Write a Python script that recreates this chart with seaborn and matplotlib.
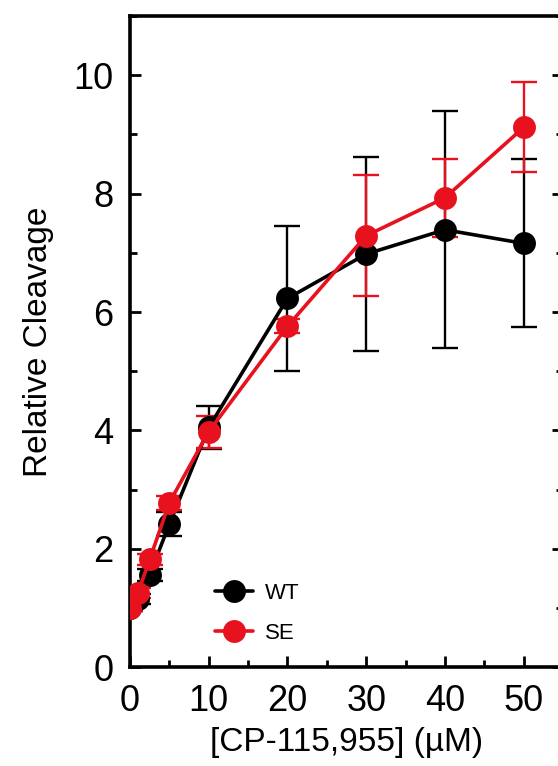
import numpy as np
import pandas as pd
import seaborn as sns
import matplotlib
matplotlib.use("Agg")
import matplotlib.pyplot as plt
from matplotlib.ticker import MultipleLocator

# concentrations (uM)
conc = [0, 1, 2.5, 5, 10, 20, 30, 40, 50]

# WT
wt_mean = [1.0, 1.15, 1.56, 2.42, 4.05, 6.23, 6.98, 7.39, 7.16]
wt_err = [0.05, 0.08, 0.1, 0.2, 0.37, 1.23, 1.64, 2.0, 1.42]

# SE
se_mean = [1.0, 1.25, 1.82, 2.78, 3.98, 5.76, 7.29, 7.93, 9.12]
se_err = [0.05, 0.08, 0.1, 0.12, 0.27, 0.12, 1.02, 0.66, 0.76]

groups = ["WT", "SE"]
colors = {"WT": "#000000", "SE": "#e8121e"}

df = pd.concat([
    pd.DataFrame({"conc": conc, "cleavage": wt_mean, "err": wt_err, "group": "WT"}),
    pd.DataFrame({"conc": conc, "cleavage": se_mean, "err": se_err, "group": "SE"}),
])

sns.set_style("ticks", {"axes.edgecolor": "black", "text.color": "black",
                        "axes.labelcolor": "black", "xtick.color": "black",
                        "ytick.color": "black"})
plt.rcParams['font.family'] = ['Liberation Sans', 'DejaVu Sans']

fig = plt.figure(figsize=(5.58, 7.66), dpi=100)
ax = fig.add_axes([0.233, 0.129, 0.776, 0.850])

for i, g in enumerate(groups):
    sub = df[df.group == g]
    ax.errorbar(sub.conc, sub.cleavage, yerr=sub.err, fmt='none', ecolor=colors[g],
                elinewidth=1.7, capsize=9.5, capthick=1.7, zorder=2 + 2 * i)

sns.lineplot(data=df, x="conc", y="cleavage", hue="group", hue_order=groups,
             palette=colors, marker="o", markersize=16.5, markeredgewidth=0,
             linewidth=2.6, sort=False, ax=ax, legend=False, zorder=5)

ax.set_xlim(0, 55)
ax.set_ylim(0, 11)
ax.xaxis.set_major_locator(MultipleLocator(10))
ax.xaxis.set_minor_locator(MultipleLocator(5))
ax.yaxis.set_major_locator(MultipleLocator(2))
ax.yaxis.set_minor_locator(MultipleLocator(1))
ax.tick_params(which="both", direction="in", right=True, width=2, labelsize=26, pad=12)
ax.tick_params(which="major", length=8)
ax.tick_params(which="minor", length=5)
for s in ax.spines.values():
    s.set_linewidth(2.6)
    s.set_visible(True)

ax.set_xlabel("[CP-115,955] (\u00b5M)", fontsize=24, labelpad=6)
ax.set_ylabel("Relative Cleavage", fontsize=24, labelpad=14)

# legend
handles = [plt.Line2D([], [], color=colors[g], marker="o", markersize=16.5,
                      markeredgewidth=0, linewidth=2.6) for g in groups]
ax.legend(handles, groups, loc="lower left", bbox_to_anchor=(0.15, 0.005),
          frameon=False, fontsize=16, handlelength=1.7, handletextpad=0.55,
          labelspacing=0.85)

fig.savefig("out.png", dpi=100)
